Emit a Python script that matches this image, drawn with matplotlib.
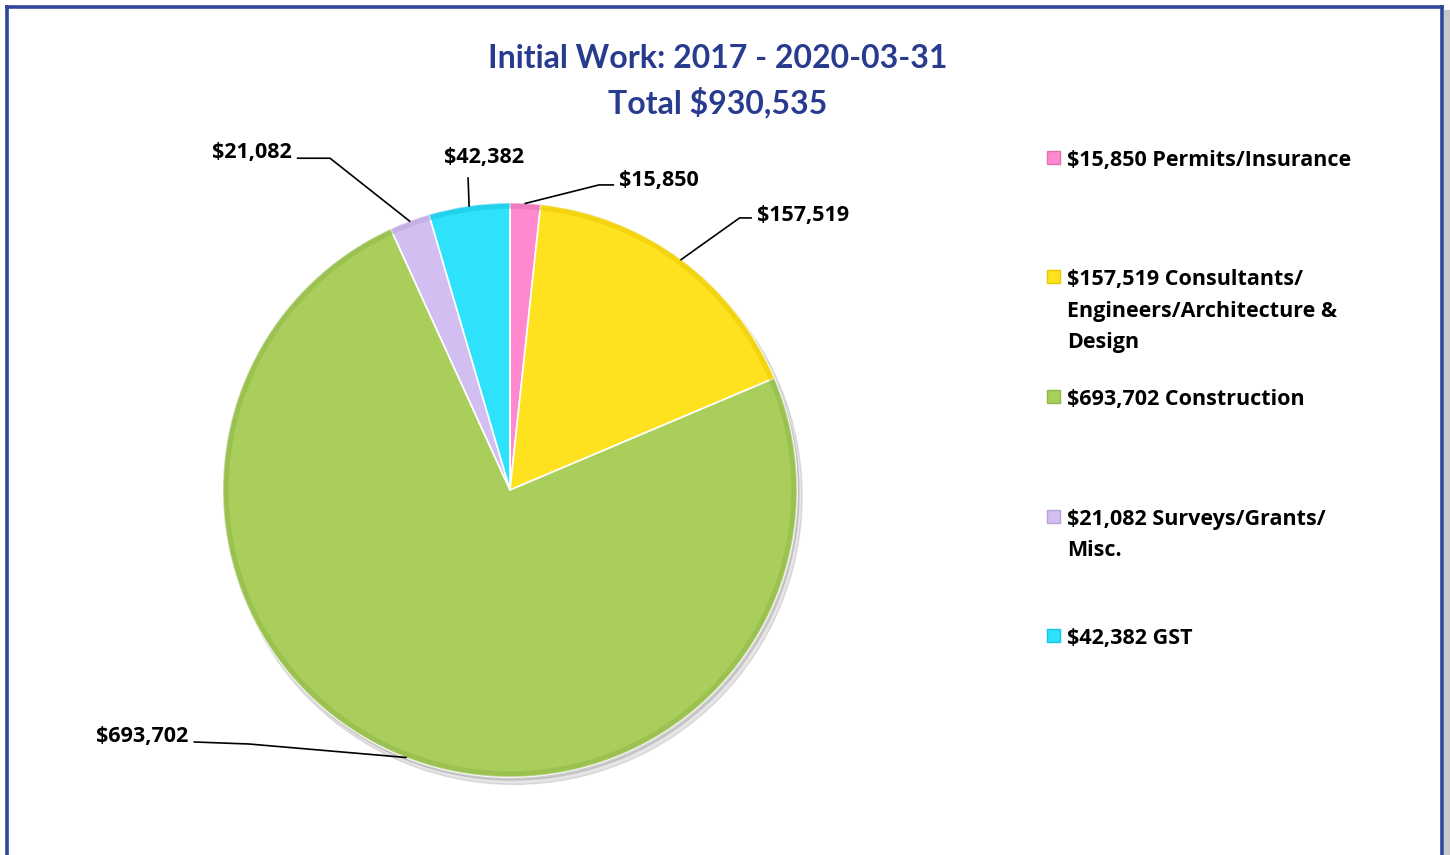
import numpy as np
import matplotlib
matplotlib.use("Agg")
import matplotlib.pyplot as plt
from matplotlib.patches import Rectangle, Circle, Wedge
from matplotlib.lines import Line2D

plt.rcParams['font.family'] = ['Open Sans', 'DejaVu Sans']

# data
categories = ["Permits/Insurance",
              "Consultants/\nEngineers/Architecture &\nDesign",
              "Construction",
              "Surveys/Grants/\nMisc.",
              "GST"]
values = [15850, 157519, 693702, 21082, 42382]
total = 930535
colors = ["#FF88CF", "#FFE21F", "#A9CE5C", "#D2BEF0", "#2EE2FB"]
edges = ["#E070B0", "#E8C800", "#8FB848", "#B8A2DA", "#18C4E0"]

W, H = 1450, 855
fig = plt.figure(figsize=(W/100, H/100), dpi=100)

# frame around the chart (left, top, right in blue; soft grey shadow on the right)
blue = "#2E479C"
fig.add_artist(Rectangle((1444/W, 0), 6/W, 1 - 10/H, transform=fig.transFigure,
                         color="#C8C8C8", zorder=0))
for xs, ys in [([6.5/W, 6.5/W], [0, 1 - 7.5/H]),
               ([6.5/W, 1441.5/W], [1 - 7.5/H, 1 - 7.5/H]),
               ([1441.5/W, 1441.5/W], [0, 1 - 7.5/H])]:
    fig.add_artist(Line2D(xs, ys, transform=fig.transFigure, color=blue, lw=2.6,
                          solid_capstyle='projecting'))

# title
title_col = "#283B8E"
fig.text(718/W, 1 - 58/H, "Initial Work: 2017 - 2020-03-31", ha='center', va='center',
         fontsize=23, fontweight='bold', color=title_col, family=['Lato', 'DejaVu Sans'])
fig.text(718/W, 1 - 102/H, f"Total ${total:,}", ha='center', va='center',
         fontsize=23, fontweight='bold', color=title_col, family=['Lato', 'DejaVu Sans'])

# pie, centre at (510, 490) px with radius 287 px
cx, cy, r = 510, 490, 287
ax = fig.add_axes([(cx - r)/W, (H - cy - r)/H, 2*r/W, 2*r/H])
ax.axis('off')

# soft shadow under the pie
ax.add_patch(Circle((0.014, -0.022), 1.004, color="#000000", alpha=0.10, zorder=0,
                    clip_on=False))
ax.add_patch(Circle((0.007, -0.011), 1.0, color="#000000", alpha=0.10, zorder=0,
                    clip_on=False))

wedges, _ = ax.pie(values, colors=colors, startangle=90, counterclock=False, radius=1,
                   wedgeprops=dict(linewidth=1.2, edgecolor="white"))
ax.set_xlim(-1, 1)
ax.set_ylim(-1, 1)
ax.set_aspect('equal')
for w, e in zip(wedges, edges):
    w.set_zorder(2)
    w.set_clip_on(False)
    # darker rim to hint at the bevel
    ax.add_patch(Wedge(w.center, w.r, w.theta1, w.theta2, width=0.02, clip_on=False,
                       facecolor=e, edgecolor='none', alpha=0.5, zorder=3))

# data labels with leader lines: (knee, end, text position, alignment) in axis units
leaders = [
    ((0.31, 1.063), (0.36, 1.063), (0.38, 1.08), 'left'),
    ((0.80, 0.948), (0.84, 0.948), (0.86, 0.955), 'left'),
    ((-0.91, -0.885), (-1.1, -0.878), (-1.12, -0.86), 'right'),
    ((-0.627, 1.156), (-0.74, 1.156), (-0.76, 1.175), 'right'),
    ((-0.146, 1.087), (-0.146, 1.087), (-0.09, 1.16), 'center'),
]
for w, v, (knee, end, tpos, ha) in zip(wedges, values, leaders):
    ang = np.deg2rad((w.theta1 + w.theta2) / 2)
    x0, y0 = np.cos(ang), np.sin(ang)
    ax.plot([x0, knee[0], end[0]], [y0, knee[1], end[1]], color='black', lw=1.2,
            clip_on=False, zorder=4)
    ax.text(tpos[0], tpos[1], f"${v:,}", ha=ha, va='center', fontsize=15.5,
            fontweight='bold', color='black', clip_on=False)

# legend drawn by hand: evenly spaced slots, text hanging from the top
for i, (cat, v, c, e) in enumerate(zip(categories, values, colors, edges)):
    y = 158 + i * 119.5
    fig.add_artist(Rectangle((1047/W, 1 - (y + 6)/H), 13/W, 13/H, transform=fig.transFigure,
                             facecolor=c, edgecolor=e, lw=1))
    fig.text(1067/W, 1 - (y - 8)/H, f"${v:,} {cat}", ha='left', va='top', fontsize=15.5,
             fontweight='bold', color='black', linespacing=1.63)

fig.savefig("out.png", dpi=100)
